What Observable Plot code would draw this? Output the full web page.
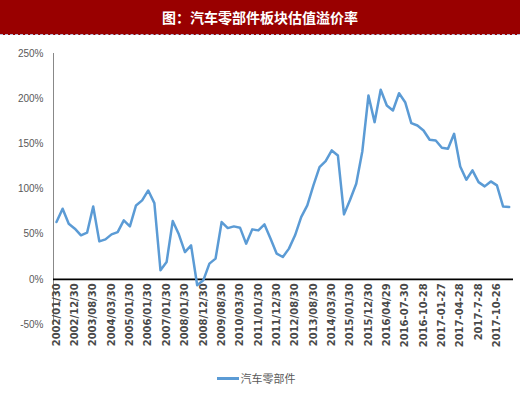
<!DOCTYPE html>
<html>
<head>
<meta charset="utf-8">
<script src="https://cdn.jsdelivr.net/npm/d3@7"></script>
<script src="https://cdn.jsdelivr.net/npm/@observablehq/plot@0.6"></script>
<style>
  body { margin: 0; background: #fff; width: 520px; height: 393px; overflow: hidden; }
  #title { height: 34px; line-height: 34px; background: #990000; color: #fff; text-align: center;
    font-family: "Noto Sans CJK SC", sans-serif; font-weight: bold; font-size: 14px;
    border-bottom: 1px dashed #b8bcd8; }
  #chart svg { display: block; }
  #legend { height: 16px; margin-top: 15px; display: flex; justify-content: center; align-items: center;
    font-family: "Noto Sans CJK SC", sans-serif; font-size: 11px; color: #595959; padding-right: 8px; }
  #legend .sw { width: 22px; height: 3px; background: #5B9BD5; margin-right: 2px; }
</style>
</head>
<body>
<div id="title">图：汽车零部件板块估值溢价率</div>
<div id="chart"></div>
<div id="legend"><span class="sw"></span><span>汽车零部件</span></div>
<script>
const seriesName = "汽车零部件";
const tickLabels = ["2002/01/30","2002/12/30","2003/08/30","2004/03/30","2005/01/30","2006/01/30","2007/01/30","2008/01/30","2008/12/30","2009/08/30","2010/03/30","2011/01/30","2011/12/30","2012/08/30","2013/08/30","2014/03/30","2015/01/30","2015/12/30","2016/04/29","2016-07-30","2016-10-28","2017-01-27","2017-04-28","2017-7-28","2017-10-26"];
const premium = [63.4,78.2,61.6,56.1,48.7,51.6,80.7,42.0,44.2,49.8,52.3,65.3,58.6,81.8,87.4,98.4,84.4,10.0,19.1,64.5,49.8,30.2,37.6,-6.6,-1.1,17.4,22.9,63.4,56.7,58.6,57.2,39.5,55.3,54.2,60.8,45.0,28.4,24.7,34.0,48.7,68.9,81.8,104.0,124.2,130.8,142.7,137.1,71.9,88.1,105.8,141.9,203.5,174.0,209.8,192.4,186.9,206.0,196.1,172.9,170.3,164.8,154.5,153.7,145.6,144.5,161.1,125.0,110.3,120.6,107.6,102.9,108.4,104.0,80.7,80.0];
const yTicks = [-50, 0, 50, 100, 150, 200, 250];
const labelEvery = 3;

const data = premium.map((v, i) => ({i, v}));
const tickData = tickLabels.map((t, k) => ({i: k * labelEvery, t}));

const chart = Plot.plot({
  width: 520,
  height: 320,
  marginLeft: 53,
  marginRight: 7,
  marginTop: 18,
  marginBottom: 31,
  style: {fontFamily: "'Liberation Sans Narrow', 'Liberation Sans', sans-serif", background: "#fff"},
  x: {domain: [-0.49, 74.71], axis: null},
  y: {domain: [-50, 250], label: null},
  marks: [
    Plot.axisY(yTicks, {tickSize: 0, tickPadding: 10, tickFormat: d => d + "%", fontSize: 10, fill: "#595959", label: null}),
    Plot.frame({anchor: "left", stroke: "#888"}),
    Plot.ruleY([0], {stroke: "#000", strokeWidth: 1.6}),
    Plot.text(tickData, {x: "i", y: () => 0, text: "t", rotate: -90, textAnchor: "end", dy: 4,
      fontSize: 10, fontWeight: "bold", fill: "#4a4a4a", fontFamily: "DejaVu Sans"}),
    Plot.line(data, {x: "i", y: "v", stroke: "#5B9BD5", strokeWidth: 2.5, strokeLinejoin: "round"})
  ]
});
document.getElementById("chart").appendChild(chart);
</script>
</body>
</html>
